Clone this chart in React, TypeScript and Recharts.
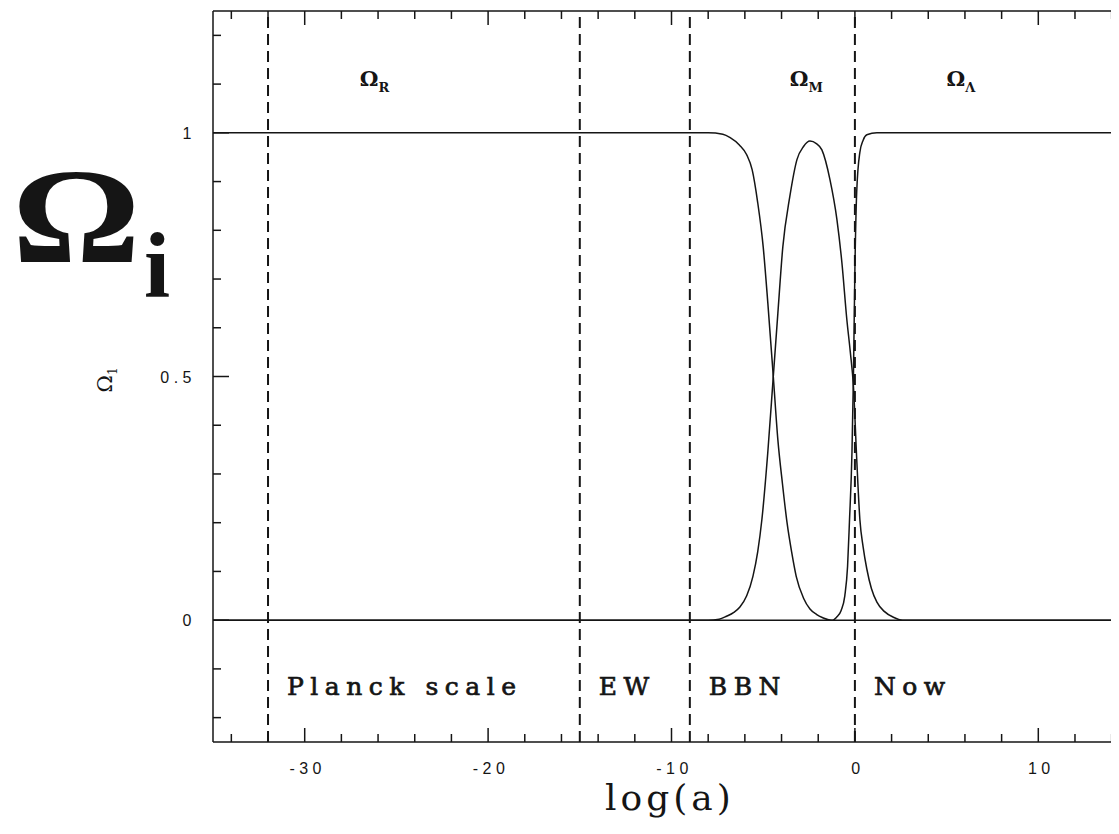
import { LineChart, Line, XAxis, YAxis, ReferenceLine, ReferenceDot } from 'recharts';

// log10 of the scale factor
const radiationLogA = [-35, -8, -7.2, -6.8, -6.3, -5.9, -5.6, -5.3, -5.0, -4.75, -4.45, -4.2, -3.95, -3.7, -3.45, -3.2, -2.8, -2.45, -2.1, -1.75, -1.3, 15];
const radiationOmega = [1, 1, 0.997, 0.99, 0.975, 0.955, 0.924, 0.857, 0.766, 0.652, 0.5, 0.37, 0.28, 0.2, 0.14, 0.09, 0.045, 0.023, 0.012, 0.005, 0, 0];

const matterLogA = [-35, -8, -7.4, -7.0, -6.6, -6.27, -5.9, -5.56, -5.3, -5.07, -4.75, -4.45, -4.2, -3.93, -3.55, -3.16, -2.8, -2.45, -2.1, -1.8, -1.36, -0.98, -0.71, -0.44, -0.25, -0.08, 0.1, 0.27, 0.45, 0.65, 0.9, 1.2, 1.6, 2.1, 2.6, 15];
const matterOmega = [0, 0, 0.002, 0.008, 0.016, 0.027, 0.05, 0.09, 0.14, 0.207, 0.344, 0.5, 0.63, 0.766, 0.869, 0.945, 0.972, 0.983, 0.978, 0.965, 0.904, 0.822, 0.734, 0.617, 0.55, 0.48, 0.33, 0.207, 0.15, 0.105, 0.065, 0.037, 0.018, 0.006, 0, 0];

const lambdaLogA = [-35, -1.2, -1.0, -0.75, -0.55, -0.4, -0.3, -0.16, -0.08, 0, 0.1, 0.27, 0.45, 0.65, 1.2, 15];
const lambdaOmega = [0, 0, 0.006, 0.02, 0.05, 0.11, 0.2, 0.344, 0.5, 0.72, 0.88, 0.96, 0.985, 0.996, 1, 1];

// epochs marked by dashed lines
const epochLogA = [-32, -15, -9, 0];
const epochNames = ['Planck scale', 'EW', 'BBN', 'Now'];

// density parameter labels at the top
const omegaLabelLogA = [-27, -3.55, 5];
const omegaLabelSubs = ['R', 'M', 'Λ'];

const xTicks = [-34, -32, -30, -28, -26, -24, -22, -20, -18, -16, -14, -12, -10, -8, -6, -4, -2, 0, 2, 4, 6, 8, 10, 12, 14];
const xLabeled = [-30, -20, -10, 0, 10];
const yTicks = [-0.2, -0.1, 0, 0.1, 0.2, 0.3, 0.4, 0.5, 0.6, 0.7, 0.8, 0.9, 1, 1.1, 1.2];
const yLabeled = [0, 0.5, 1];

const toPoints = (xs: number[], ys: number[]) => xs.map((x, i) => ({ x, y: ys[i] }));
const radiation = toPoints(radiationLogA, radiationOmega);
const matter = toPoints(matterLogA, matterOmega);
const lambda = toPoints(lambdaLogA, lambdaOmega);

// chart box; the plot area follows from it
const W = 1140;
const H = 834;
const M = { top: 10, right: 9, bottom: 91, left: 212 };
const plotW = W - M.left - M.right - 2;
const plotH = H - M.top - M.bottom - 2;

const ink = '#151515';
const tickFont = { fontFamily: 'Liberation Sans, Arial, sans-serif', fontSize: 16, letterSpacing: 4.5, fill: ink };
const axisLine = { stroke: ink, strokeWidth: 1.5 };

// bottom axis tick, mirrored onto the top frame edge
function XTick({ x, y, payload }: any) {
  const major = xLabeled.includes(payload.value);
  const len = major ? 14 : 8;
  const top = y - plotH;
  return (
    <g stroke={ink} strokeWidth={1.5}>
      <line x1={x} y1={y} x2={x} y2={y - len} />
      <line x1={x} y1={top} x2={x} y2={top + len} />
      {major && (
        <text x={x + 3} y={y + 32} textAnchor='middle' stroke='none' {...tickFont}>
          {payload.value}
        </text>
      )}
    </g>
  );
}

// left axis tick, mirrored onto the right frame edge
function YTick({ x, y, payload }: any) {
  const major = yLabeled.includes(payload.value);
  const len = major ? 16 : 8;
  const right = x + plotW;
  return (
    <g stroke={ink} strokeWidth={1.5}>
      <line x1={x} y1={y} x2={x + len} y2={y} />
      <line x1={right} y1={y} x2={right - len} y2={y} />
      {major && (
        <text x={x - 17} y={y + 6} textAnchor='end' stroke='none' {...tickFont}>
          {payload.value}
        </text>
      )}
    </g>
  );
}

function EpochLabel({ viewBox, text }: any) {
  return (
    <text
      x={viewBox.x + 19}
      y={viewBox.y + viewBox.height - 47}
      fontFamily='DejaVu Serif, serif'
      fontSize={25}
      letterSpacing={6.5}
      fill={ink}
      stroke={ink}
      strokeWidth={0.7}
    >
      {text}
    </text>
  );
}

function OmegaLabel({ viewBox, sub }: any) {
  return (
    <text x={viewBox.x} y={viewBox.y} fontFamily='DejaVu Serif, serif' fontWeight='bold' fill={ink}>
      <tspan fontSize={21}>Ω</tspan>
      <tspan fontSize={13} dy={6}>
        {sub}
      </tspan>
    </text>
  );
}

export default function App() {
  return (
    <div style={{ margin: -8, width: 1119, height: 834, overflow: 'hidden', position: 'relative', background: '#fff' }}>
      <LineChart width={W} height={H} margin={M}>
        <XAxis
          dataKey='x'
          type='number'
          domain={[-35, 15]}
          ticks={xTicks}
          interval={0}
          height={1}
          tickSize={0}
          tickMargin={0}
          tickLine={false}
          axisLine={axisLine}
          tick={(p: any) => <XTick {...p} />}
          allowDataOverflow
        />
        <XAxis
          xAxisId='top'
          orientation='top'
          type='number'
          domain={[-35, 15]}
          height={1}
          tick={false}
          tickLine={false}
          axisLine={axisLine}
          allowDataOverflow
        />
        <YAxis
          type='number'
          domain={[-0.25, 1.25]}
          ticks={yTicks}
          interval={0}
          width={1}
          tickSize={0}
          tickMargin={0}
          tickLine={false}
          axisLine={axisLine}
          tick={(p: any) => <YTick {...p} />}
          allowDataOverflow
        />
        <YAxis
          yAxisId='right'
          orientation='right'
          type='number'
          domain={[-0.25, 1.25]}
          width={1}
          tick={false}
          tickLine={false}
          axisLine={axisLine}
          allowDataOverflow
        />
        {epochLogA.map((x, i) => (
          <ReferenceLine
            key={x}
            x={x}
            stroke={ink}
            strokeWidth={2}
            strokeDasharray='11 6'
            label={<EpochLabel text={epochNames[i]} />}
          />
        ))}
        {omegaLabelLogA.map((x, i) => (
          <ReferenceDot
            key={x}
            x={x}
            y={1.096}
            r={0}
            fill='none'
            stroke='none'
            label={<OmegaLabel sub={omegaLabelSubs[i]} />}
          />
        ))}
        <Line data={radiation} dataKey='y' type='monotone' stroke={ink} strokeWidth={1.5} dot={false} isAnimationActive={false} />
        <Line data={matter} dataKey='y' type='monotone' stroke={ink} strokeWidth={1.5} dot={false} isAnimationActive={false} />
        <Line data={lambda} dataKey='y' type='monotone' stroke={ink} strokeWidth={1.5} dot={false} isAnimationActive={false} />
      </LineChart>
      <svg width={1119} height={834} style={{ position: 'absolute', left: 0, top: 0, pointerEvents: 'none' }}>
        <text
          x={0}
          y={262}
          fontFamily='Liberation Serif, serif'
          fontWeight='bold'
          fontSize={136}
          fill={ink}
          transform='translate(12 0) scale(1.18 1)'
        >
          Ω
        </text>
        <text x={144} y={297} fontFamily='Liberation Serif, serif' fontWeight='bold' fontSize={94} fill={ink}>
          i
        </text>
        <text
          transform='translate(112 380) rotate(-90)'
          textAnchor='middle'
          fontFamily='DejaVu Serif, serif'
          fontSize={21}
          fill={ink}
        >
          Ω
          <tspan fontSize={12} dy={5}>
            1
          </tspan>
        </text>
        <text
          x={670}
          y={810}
          textAnchor='middle'
          fontFamily='DejaVu Serif, serif'
          fontSize={36}
          letterSpacing={4}
          fill={ink}
        >
          log(a)
        </text>
      </svg>
    </div>
  );
}
